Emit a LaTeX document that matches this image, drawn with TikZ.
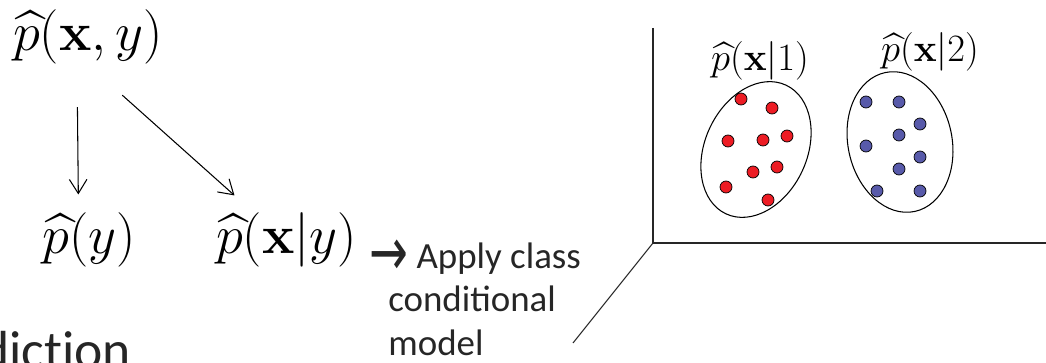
\RequirePackage{fix-cm}
\documentclass[tikz,border=0pt]{standalone}
\usepackage{amsmath}
\usepackage{amssymb}
\usepackage[no-math]{fontspec}
\setmainfont{Carlito}
\newfontfamily\arrowfont{DejaVu Sans}
\usetikzlibrary{arrows.meta}
\usetikzlibrary{shapes.geometric}

\definecolor{dotred}{RGB}{237,28,36}
\definecolor{dotblue}{RGB}{88,90,170}
\definecolor{textgray}{RGB}{38,38,38}

\tikzset{
  dist/.style={inner sep=0pt, font=\fontsize{31}{36}\selectfont},
  cls/.style={inner sep=0pt, font=\fontsize{22}{26}\selectfont},
  factor/.style={-{Straight Barb[length=8pt,width=10pt]}, line width=0.6pt},
  axis/.style={line width=0.6pt, draw=black!85},
  cluster/.style={draw, ellipse, inner sep=0pt, line width=0.6pt},
  reddot/.style={draw, line width=0.4pt, fill=dotred},
  bluedot/.style={draw, line width=0.4pt, fill=dotblue},
}

\begin{document}
\begin{tikzpicture}
        \useasboundingbox (0,0) rectangle (20.92,7.24);
        \clip (0,0) rectangle (20.92,7.24);

        % Draw the joint estimate and its two factors
        \node[dist] (pxy) at (1.76,6.50) {$\widehat{p}(\mathbf{x},y)$};
        \node[dist] (py) at (1.79,2.44) {$\widehat{p}(y)$};
        \node[dist] (pxgy) at (5.73,2.44) {$\widehat{p}(\mathbf{x}|y)$};

        % Draw the factorisation arrows
        \draw[factor, shorten <=0.85cm, shorten >=0.36cm] ([xshift=-0.22cm]pxy.south) -- ([xshift=-0.22cm]py.north);
        \draw[factor, shorten <=0.92cm, shorten >=0.51cm] (pxy.south) -- ([xshift=-0.66cm]pxgy.north);

        % Draw the remark next to the class conditional
        \node[font=\fontsize{21}{24.7}\selectfont, text=textgray, align=left, anchor=base west, inner sep=0pt] (apply) at (7.76,0.14) {\hspace*{-0.38cm}{\arrowfont\fontsize{24}{24.7}\selectfont\raisebox{-4pt}{\scalebox{1.1}[1.6]{→}}} Apply class\\conditional\\model};

        % Draw the cut off slide title
        \node[font=\fontsize{30.5}{36}\selectfont\addfontfeature{Ligatures=NoCommon}, text=textgray, anchor=base east, inner sep=0pt] (title) at (2.63,-0.12) {diction};

        % Draw the three axes
        \coordinate (origin) at (13.06,2.38);
        \draw[axis] (13.06,6.68) -- (origin) -- (21.0,2.38);
        \draw[axis] (origin) -- (11.46,0.38);

        % Draw the two class clusters
        \node[cluster, minimum width=2.04cm, minimum height=2.84cm, rotate=-25] (clsone) at (15.12,4.25) {};
        \node[cluster, minimum width=2.08cm, minimum height=2.84cm, rotate=12] (clstwo) at (18.00,4.40) {};
        \node[cls] (labone) at (15.20,6.02) {$\widehat{p}(\mathbf{x}|1)$};
        \node[cls] (labtwo) at (18.60,6.20) {$\widehat{p}(\mathbf{x}|2)$};

        % Draw the points of class 1
        \draw[reddot] (14.82,5.26) circle (0.12);
        \draw[reddot] (15.44,5.08) circle (0.12);
        \draw[reddot] (14.56,4.42) circle (0.12);
        \draw[reddot] (15.26,4.44) circle (0.12);
        \draw[reddot] (15.74,4.52) circle (0.12);
        \draw[reddot] (15.06,3.80) circle (0.12);
        \draw[reddot] (15.54,3.90) circle (0.12);
        \draw[reddot] (14.52,3.50) circle (0.12);
        \draw[reddot] (15.36,3.24) circle (0.12);

        % Draw the points of class 2
        \draw[bluedot] (17.32,5.20) circle (0.12);
        \draw[bluedot] (17.98,5.20) circle (0.12);
        \draw[bluedot] (18.40,4.76) circle (0.12);
        \draw[bluedot] (17.98,4.54) circle (0.12);
        \draw[bluedot] (17.32,4.32) circle (0.12);
        \draw[bluedot] (18.40,4.10) circle (0.12);
        \draw[bluedot] (17.98,3.86) circle (0.12);
        \draw[bluedot] (17.54,3.42) circle (0.12);
        \draw[bluedot] (18.40,3.42) circle (0.12);
    \end{tikzpicture}
\end{document}
